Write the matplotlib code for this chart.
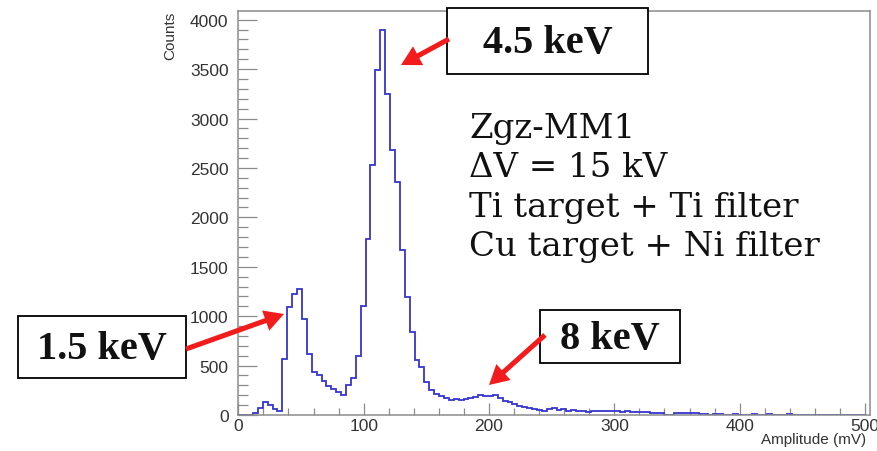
import numpy as np
import matplotlib.pyplot as plt
from matplotlib.patches import Rectangle, FancyArrowPatch, ArrowStyle
from matplotlib.ticker import MultipleLocator

# histogram: 128 bins between 0 and 500 mV
amp_min = 0.0
amp_max = 500.0
counts = [0, 0, 0, 25, 70, 130, 100, 60, 45, 567,
          1091, 1220, 1277, 972, 618, 440, 405, 348, 297, 266,
          234, 200, 304, 372, 601, 1108, 1776, 2526, 3489, 3894,
          3252, 2678, 2358, 1665, 1192, 838, 555, 490, 335, 250,
          213, 189, 169, 152, 162, 152, 162, 169, 179, 203,
          189, 196, 203, 169, 145, 128, 111, 95, 78, 68,
          61, 54, 44, 61, 68, 54, 61, 44, 54, 44,
          37, 34, 44, 40, 40, 44, 37, 40, 34, 37,
          34, 27, 30, 27, 24, 20, 20, 3, 2, 17,
          20, 17, 20, 17, 10, 7, 3, 14, 10, 3,
          2, 14, 3, 2, 0, 10, 2, 0, 14, 0,
          2, 0, 10, 0, 0, 0, 0, 0, 0, 0,
          0, 0, 0, 0, 0, 0, 0, 0]
edges = np.linspace(amp_min, amp_max, len(counts) + 1)

info_lines = ['Zgz-MM1', '\u0394V = 15 kV', 'Ti target + Ti filter', 'Cu target + Ni filter']
peak_labels = ['4.5 keV', '1.5 keV', '8 keV']

W, H = 878, 452
fig = plt.figure(figsize=(W / 100, H / 100), dpi=100)
ax = fig.add_axes([238.3 / W, 1 - 416 / H, (870 - 238.3) / W, (416 - 11.7) / H])

ax.stairs(counts, edges, color='#3535d0', lw=1.3, zorder=2)
ax.set_xlim(0, 504)
ax.set_ylim(0, 4091)

ax.xaxis.set_major_locator(MultipleLocator(100))
ax.xaxis.set_minor_locator(MultipleLocator(20))
ax.yaxis.set_major_locator(MultipleLocator(500))
ax.yaxis.set_minor_locator(MultipleLocator(100))

frame_col = '#8c8c8c'
for s in ax.spines.values():
    s.set_color(frame_col)
    s.set_linewidth(1.1)
    s.set_zorder(2.5)
ax.tick_params(which='both', direction='in', color=frame_col, width=0.9,
               labelcolor='#333333', labelsize=12.5, top=False, right=False)
ax.tick_params(axis='y', which='major', length=13.7, pad=7)
ax.tick_params(axis='y', which='minor', length=7.2)
ax.tick_params(axis='x', which='major', length=9, pad=2)
ax.tick_params(axis='x', which='minor', length=4.8)
for lab in ax.get_xticklabels() + ax.get_yticklabels():
    lab.set_fontfamily('Liberation Sans')

# overlay in pixel coordinates for the annotations
ov = fig.add_axes([0, 0, 1, 1], zorder=5)
ov.set_xlim(0, W)
ov.set_ylim(H, 0)
ov.axis('off')
ov.patch.set_alpha(0)

ov.text(170, 12, 'Counts', rotation=90, ha='center', va='top',
        fontsize=11, color='#333333', family='Liberation Sans')
ov.text(866, 440, 'Amplitude (mV)', ha='right', va='center',
        fontsize=11, color='#333333', family='Liberation Sans')

y_base = 138
for line in info_lines:
    ov.text(469, y_base, line, ha='left', va='baseline', fontsize=24.5,
            family='DejaVu Serif', color='#111111')
    y_base += 39.5

red = '#f21c1c'
boxes = [(447, 9, 201, 66), (18, 317, 168, 62), (540, 311, 140, 53)]
arrows = [((449, 40), (401, 66)), ((186, 350), (284, 315)), ((545, 336), (489, 386))]
for label, (bx, by, bw, bh), (tail, tip) in zip(peak_labels, boxes, arrows):
    ov.add_patch(Rectangle((bx, by), bw, bh, facecolor='white', edgecolor='black', lw=1.3))
    ov.text(bx + bw / 2, by + bh / 2 + 2, label, ha='center', va='center',
            fontsize=29, fontweight='bold', family='Liberation Serif', color='#111111')
    ov.add_patch(FancyArrowPatch(tail, tip, arrowstyle=ArrowStyle.Simple(head_length=0.5, head_width=0.55, tail_width=0.13),
                                 mutation_scale=28, color=red, shrinkA=0, shrinkB=0, lw=0))

fig.savefig('out.png', dpi=100)
